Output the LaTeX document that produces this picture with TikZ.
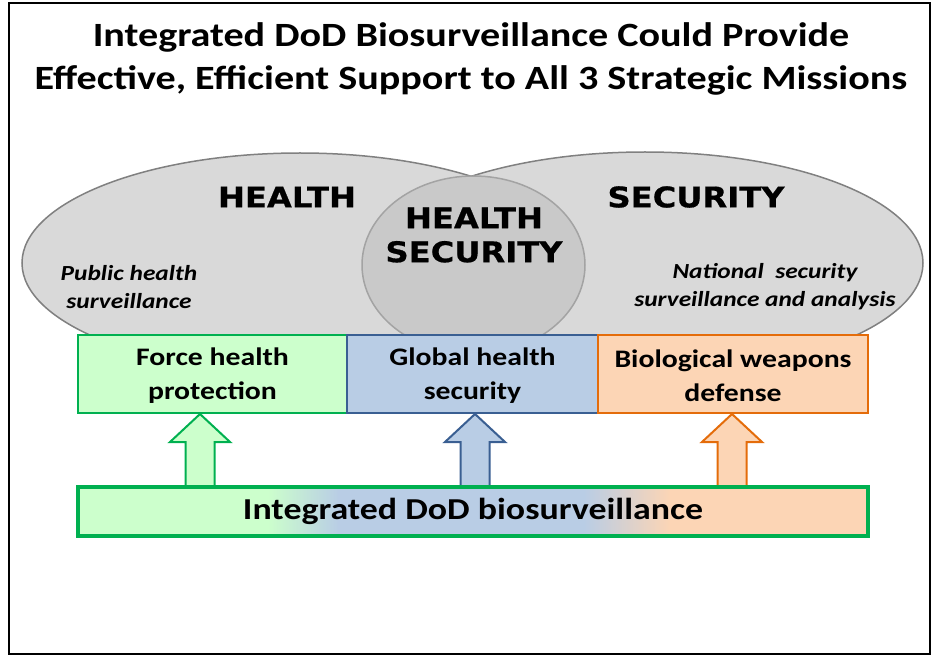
\documentclass[tikz,border=0pt]{standalone}
\usepackage{fontspec}
\setmainfont[FakeStretch=1.18]{Carlito}
\newfontfamily\heavyfont[FakeStretch=1.13,FakeBold=0.6]{DejaVu Sans}
\usetikzlibrary{shapes.geometric}
\definecolor{ellfill}{HTML}{D9D9D9}
\definecolor{ellline}{HTML}{808080}
\definecolor{midfill}{HTML}{C9C9C9}
\definecolor{midline}{HTML}{A3A3A3}
\definecolor{gfill}{HTML}{CCFFCC}
\definecolor{gline}{HTML}{00B050}
\definecolor{bfill}{HTML}{B9CDE5}
\definecolor{bline}{HTML}{3A5F92}
\definecolor{ofill}{HTML}{FCD5B5}
\definecolor{oline}{HTML}{E46C0A}
\pgfdeclarehorizontalshading{barshade}{100bp}{color(0bp)=(gfill); color(37bp)=(gfill); color(41.5bp)=(bfill); color(57bp)=(bfill); color(62.5bp)=(ofill); color(100bp)=(ofill)}
\tikzset{
  titletext/.style={font=\bfseries\fontsize{34}{43}\selectfont, align=center, inner sep=0pt},
  bigtext/.style={font=\heavyfont\bfseries\fontsize{28.5}{34}\selectfont, align=center, inner sep=0pt},
  italtext/.style={font=\bfseries\itshape\fontsize{21.5}{28}\selectfont, align=center, inner sep=0pt},
  ell/.style={ellipse, draw=ellline, fill=ellfill, line width=1.5pt, inner sep=0pt},
  midell/.style={ellipse, draw=midline, fill=midfill, line width=1.5pt, inner sep=0pt},
  mbox/.style={draw, line width=2pt, minimum height=78pt, inner sep=0pt},
  boxtext/.style={align=center, inner sep=0pt, font=\bfseries\fontsize{25.2}{34}\selectfont},
  gbox/.style={mbox, draw=gline, fill=gfill},
  bbox/.style={mbox, draw=bline, fill=bfill},
  obox/.style={mbox, draw=oline, fill=ofill},
  blockup/.pic={\draw[pic actions] (0,0) -- (30,28) -- (14.5,28) -- (14.5,74) -- (-14.5,74) -- (-14.5,28) -- (-30,28) -- cycle;},
  garrow/.style={draw=gline, fill=gfill, line width=2pt, line join=miter},
  barrow/.style={draw=bline, fill=bfill, line width=2pt, line join=miter},
  oarrow/.style={draw=oline, fill=ofill, line width=2pt, line join=miter},
}
\begin{document}
\begin{tikzpicture}[x=1pt,y=-1pt]
\useasboundingbox (0,0) rectangle (932,655);
\fill[white] (0,0) rectangle (932,655);
\draw[line width=1.6pt] (9,3) rectangle (930,654);
\node[titletext] (title) at (471,59) {Integrated DoD Biosurveillance Could Provide\\Effective, Efficient Support to All 3 Strategic Missions};
% ellipses
\node[ell, minimum width=556pt, minimum height=220pt] (healthE) at (300,263) {};
\node[ell, minimum width=556pt, minimum height=222pt] (securityE) at (645,263) {};
\node[midell, minimum width=223pt, minimum height=178pt] (hsE) at (473.5,265) {};
\node[bigtext] (healthT) at (287,197) {HEALTH};
\node[bigtext] (securityT) at (696,197) {SECURITY};
\node[bigtext] (hsT) at (474,235) {HEALTH\\SECURITY};
\node[italtext] (phs) at (129,287) {Public health\\surveillance};
\node[italtext] (nss) at (765,287) {National~ security\\surveillance and analysis};
% mission boxes
\node[gbox, minimum width=269pt] (fhp) at (212.5,374) {};
\node[bbox, minimum width=251pt] (ghs) at (472.5,374) {};
\node[obox, minimum width=270pt] (bwd) at (733,374) {};
\node[boxtext] (fhpT) at ([yshift=-2pt]fhp.center) {Force health\\protection};
\node[boxtext] (ghsT) at ([yshift=-2pt]ghs.center) {Global health\\security};
\node[boxtext] (bwdT) at ([yshift=-2pt]bwd.center) {Biological weapons\\defense};
% arrows
\pic[garrow] at ([xshift=-12.5pt]fhp.south) {blockup};
\pic[barrow] at ([xshift=2.5pt]ghs.south) {blockup};
\pic[oarrow] at ([xshift=-1pt]bwd.south) {blockup};
% bar
\node[draw=gline, line width=4pt, shading=barshade, minimum width=790pt, minimum height=49pt, inner sep=0pt,
  font=\bfseries\fontsize{30.4}{34}\selectfont] (bar) at (473,511.5) {Integrated DoD biosurveillance};
\end{tikzpicture}
\end{document}
